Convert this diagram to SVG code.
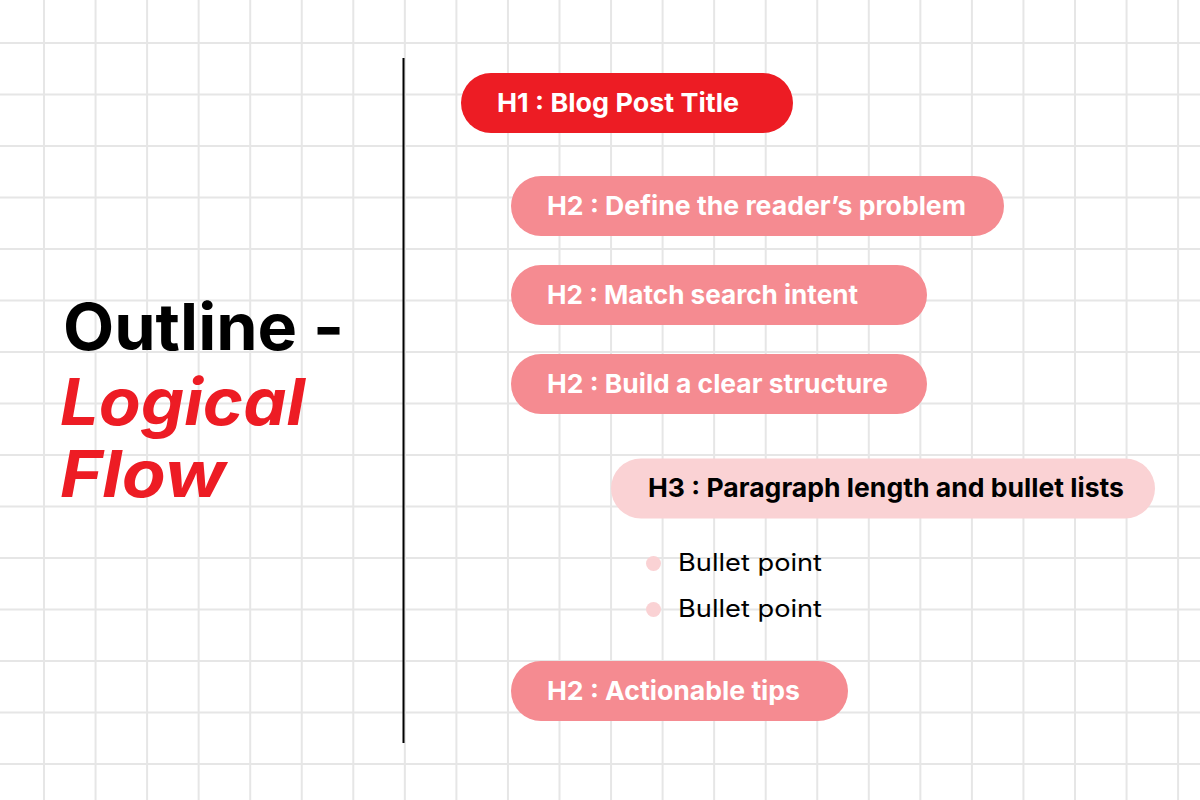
<svg xmlns="http://www.w3.org/2000/svg" width="1200" height="800" viewBox="0 0 1200 800">
<style>
.grid{stroke:#e6e6e6;stroke-width:2;fill:none}
.pill-h1{fill:#ed1c24}
.pill-h2{fill:#f58b91}
.pill-h3{fill:#fad2d4}
.dot{fill:#fad2d4}
.t{font-family:Inter,"Liberation Sans",sans-serif;font-weight:700;font-size:26px}
.tw{fill:#ffffff}
.tb{fill:#000000}
.bullet{font-family:Inter,"Liberation Sans",sans-serif;font-weight:400;font-size:24px;fill:#000}
.title{font-family:Inter,"Liberation Sans",sans-serif;font-weight:700;font-size:65px}
</style>
<rect width="1200" height="800" fill="#ffffff"/>
<g id="grid">
<path class="grid" d="M44 0V800M95.55 0V800M147.1 0V800M198.65 0V800M250.2 0V800M301.75 0V800M353.3 0V800M404.85 0V800M456.4 0V800M507.95 0V800M559.5 0V800M611.05 0V800M662.6 0V800M714.15 0V800M765.7 0V800M817.25 0V800M868.8 0V800M920.35 0V800M971.9 0V800M1023.45 0V800M1075 0V800M1126.55 0V800M1178.1 0V800"/>
<path class="grid" d="M0 43H1200M0 94.5H1200M0 146H1200M0 197.5H1200M0 249H1200M0 300.5H1200M0 352H1200M0 403.5H1200M0 455H1200M0 506.5H1200M0 558H1200M0 609.5H1200M0 661H1200M0 712.5H1200M0 764H1200"/>
</g>
<g id="title">
<text class="title" x="63" y="350" fill="#000" textLength="281" lengthAdjust="spacingAndGlyphs">Outline -</text>
<text class="title" x="60" y="425" fill="#ed1c24" font-style="italic" textLength="245" lengthAdjust="spacingAndGlyphs">Logical</text>
<text class="title" x="60" y="497" fill="#ed1c24" font-style="italic" textLength="166" lengthAdjust="spacingAndGlyphs">Flow</text>
</g>
<g id="connectors">
<line x1="403.5" y1="58" x2="403.5" y2="743" stroke="#000" stroke-width="2"/>
</g>
<g id="h1">
<rect class="pill-h1" x="461" y="73" width="332" height="60" rx="30"/>
<text class="t tw" x="497" y="112" textLength="242" lengthAdjust="spacingAndGlyphs">H1 : Blog Post Title</text>
</g>
<g id="h2-define">
<rect class="pill-h2" x="511" y="176" width="493" height="60" rx="30"/>
<text class="t tw" x="547" y="214.5" textLength="419" lengthAdjust="spacingAndGlyphs">H2 : Define the reader’s problem</text>
</g>
<g id="h2-match">
<rect class="pill-h2" x="511" y="265" width="416" height="60" rx="30"/>
<text class="t tw" x="547" y="303.5" textLength="311" lengthAdjust="spacingAndGlyphs">H2 : Match search intent</text>
</g>
<g id="h2-build">
<rect class="pill-h2" x="511" y="354" width="416" height="60" rx="30"/>
<text class="t tw" x="547" y="392.5" textLength="341" lengthAdjust="spacingAndGlyphs">H2 : Build a clear structure</text>
</g>
<g id="h3">
<rect class="pill-h3" x="611" y="458.5" width="544" height="60" rx="30"/>
<text class="t tb" x="648" y="497" textLength="476" lengthAdjust="spacingAndGlyphs">H3 : Paragraph length and bullet lists</text>
</g>
<g id="bullet-1">
<circle class="dot" cx="653.5" cy="563.5" r="7.5"/>
<text class="bullet" x="678" y="570.5" textLength="144" lengthAdjust="spacingAndGlyphs">Bullet point</text>
</g>
<g id="bullet-2">
<circle class="dot" cx="653.5" cy="609.5" r="7.5"/>
<text class="bullet" x="678" y="616.5" textLength="144" lengthAdjust="spacingAndGlyphs">Bullet point</text>
</g>
<g id="h2-actionable">
<rect class="pill-h2" x="511" y="661" width="337" height="60" rx="30"/>
<text class="t tw" x="547" y="700" textLength="253" lengthAdjust="spacingAndGlyphs">H2 : Actionable tips</text>
</g>
</svg>
